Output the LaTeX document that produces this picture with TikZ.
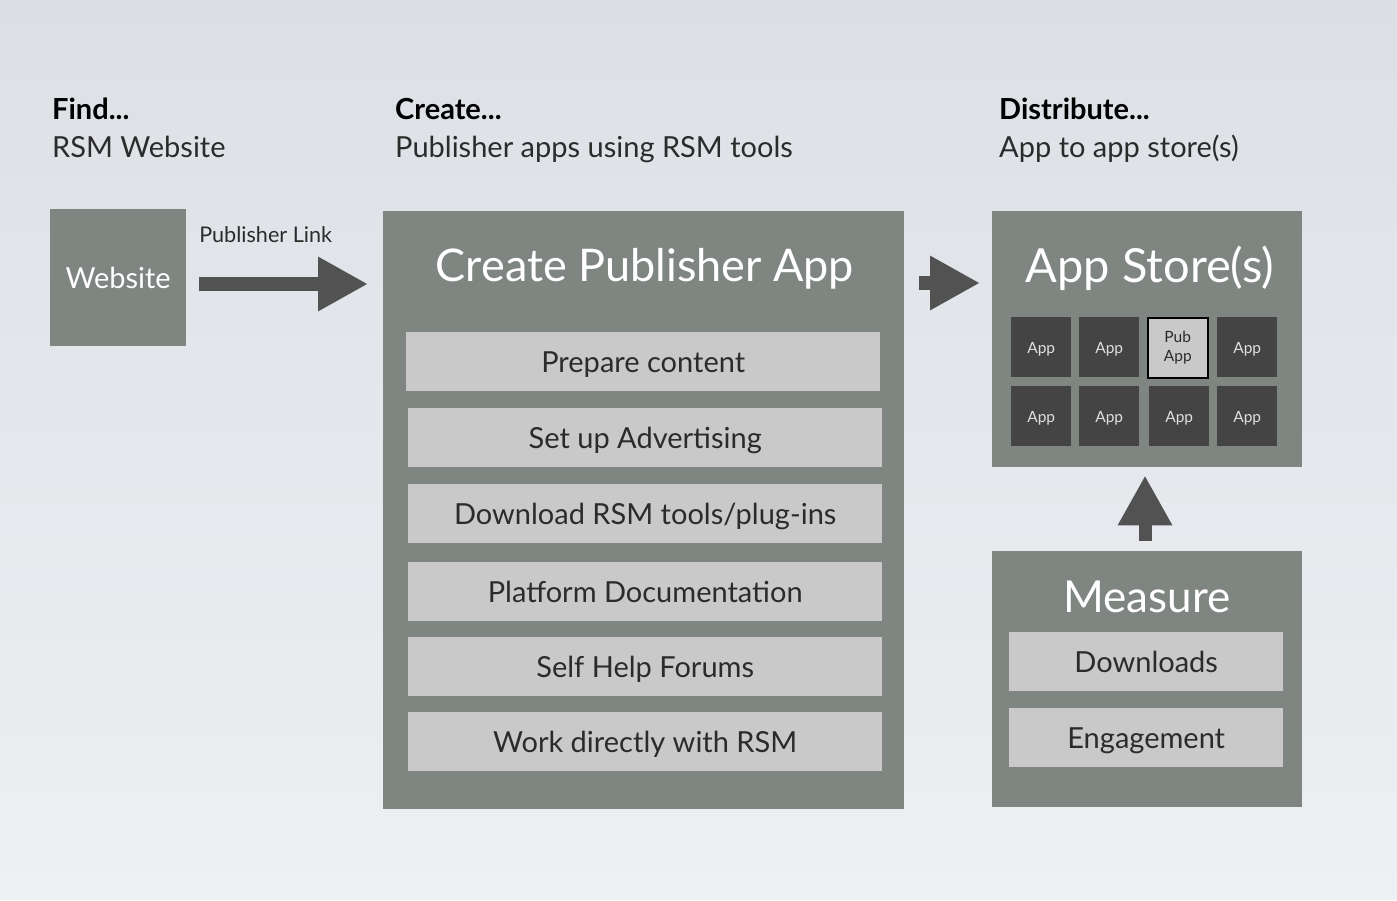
\documentclass[tikz,border=0pt]{standalone}
\usepackage{fontspec}
\setmainfont{Lato}
\usetikzlibrary{arrows.meta}
\definecolor{bgtop}{HTML}{DCE0E5}
\definecolor{bgbot}{HTML}{EDEFF2}
\definecolor{band}{HTML}{EFF0F3}
\definecolor{panel}{HTML}{7F8682}
\definecolor{item}{HTML}{C9C9C9}
\definecolor{tile}{HTML}{444444}
\definecolor{arrowgrey}{HTML}{525252}
\definecolor{ink}{HTML}{2B2B2B}
\begin{document}
\begin{tikzpicture}[x=1pt,y=-1pt,
  panelbox/.style={fill=panel,draw=none,anchor=north west,inner sep=0pt},
  itembox/.style={fill=item,draw=none,anchor=north west,inner sep=0pt,
    minimum height=59pt,text=ink,text height=24pt,text depth=2pt,
    font=\fontsize{29}{34}\selectfont},
  tilebox/.style={fill=tile,draw=none,anchor=north west,inner sep=0pt,
    minimum width=60pt,minimum height=60pt,text=white!88!black,
    text height=13pt,text depth=0pt,font=\fontsize{15.5}{17}\selectfont},
  pubtile/.style={tilebox,fill=item,draw=black,line width=1.5pt,text=ink,align=center,
    text height=,text depth=,font=\fontsize{15.5}{19}\selectfont},
  paneltitle/.style={text=white,inner sep=0pt},
  head/.style={anchor=base west,inner sep=0pt,text=black,font=\fontsize{29}{32}\selectfont\bfseries},
  sub/.style={anchor=base west,inner sep=0pt,text=ink,font=\fontsize{29}{32}\selectfont},
  bigarrow/.style={draw=arrowgrey,line width=14pt,
    -{Triangle[length=50pt,width=51pt]}}
]
\useasboundingbox (0,0) rectangle (1397,900);
% backdrop
\shade[top color=bgtop,bottom color=bgbot] (0,0) rectangle (1397,870);
\fill[band] (0,870) rectangle (1397,900);

% column headings
\node[head] (h1) at (52,119) {Find...};
\node[sub] (s1) at (52,157) {RSM Website};
\node[head] (h2) at (395,119) {Create...};
\node[sub] (s2) at (395,157) {Publisher apps using RSM tools};
\node[head] (h3) at (999,119) {Distribute...};
\node[sub] (s3) at (999,157) {App to app store(s)};

% website
\node[panelbox,minimum width=136pt,minimum height=137pt,text=white,
  font=\fontsize{29}{34}\selectfont] (web) at (50,209) {Website};

% create panel
\node[panelbox,minimum width=521pt,minimum height=598pt] (create) at (383,211) {};
\node[paneltitle,font=\fontsize{45}{52}\selectfont] (ctitle) at (645,269) {Create Publisher App};
\node[itembox,minimum width=474pt] (i1) at (406,332) {Prepare content};
\node[itembox,minimum width=474pt] (i2) at (408,408) {Set up Advertising};
\node[itembox,minimum width=474pt] (i3) at (408,484) {Download RSM tools/plug-ins};
\node[itembox,minimum width=474pt] (i4) at (408,562) {Platform Documentation};
\node[itembox,minimum width=474pt] (i5) at (408,637) {Self Help Forums};
\node[itembox,minimum width=474pt] (i6) at (408,712) {Work directly with RSM};

% app store panel
\node[panelbox,minimum width=310pt,minimum height=256pt] (store) at (992,211) {};
\node[paneltitle,font=\fontsize{47}{54}\selectfont] (stitle) at (1150,268) {App Store(s)};
\node[tilebox] (a1) at (1011,317) {App};
\node[tilebox] (a2) at (1079,317) {App};
\node[pubtile] (a3) at (1147,317) {Pub\\App};
\node[tilebox] (a4) at (1217,317) {App};
\node[tilebox] (a5) at (1011,386) {App};
\node[tilebox] (a6) at (1079,386) {App};
\node[tilebox] (a7) at (1149,386) {App};
\node[tilebox] (a8) at (1217,386) {App};

% measure panel
\node[panelbox,minimum width=310pt,minimum height=256pt] (measure) at (992,551) {};
\node[paneltitle,font=\fontsize{44}{50}\selectfont] (mtitle) at (1147,597) {Measure};
\node[itembox,minimum width=274pt] (m1) at (1009,632) {Downloads};
\node[itembox,minimum width=274pt] (m2) at (1009,708) {Engagement};

% connectors
\draw[bigarrow,shorten <=13pt,shorten >=15pt] (web.east |- 0,284) -- (create.west |- 0,284)
  node[pos=0.03,above=42pt,anchor=base west,inner sep=0pt,text=ink,
  font=\fontsize{21.6}{24}\selectfont] (plink) {Publisher Link};
\draw[bigarrow,shorten <=15pt,shorten >=12pt] (create.east |- 0,283) -- (store.west |- 0,283);
\draw[bigarrow,line width=13pt,shorten <=10pt,shorten >=8pt] (measure.north -| 1145,0) -- (store.south -| 1145,0);
\end{tikzpicture}
\end{document}
